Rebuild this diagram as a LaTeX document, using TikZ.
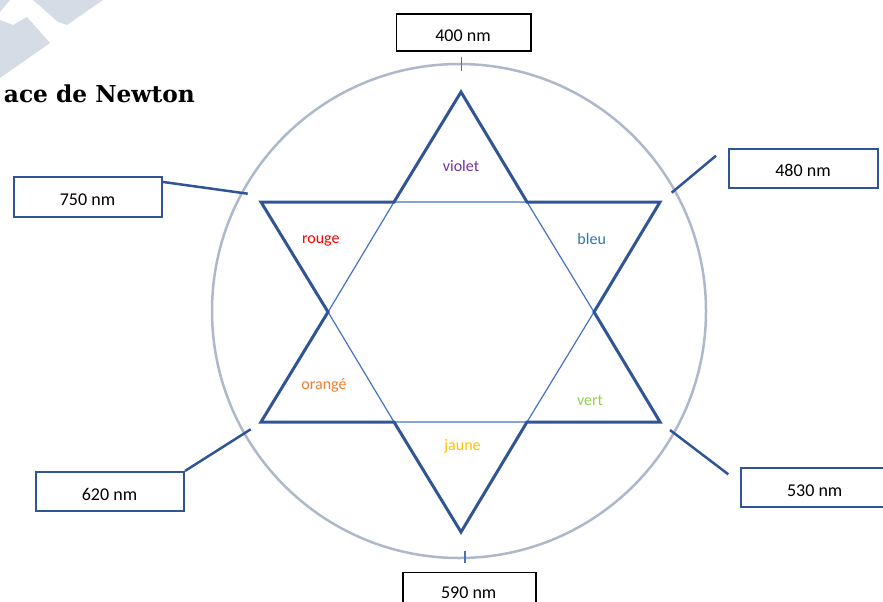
\documentclass[tikz,border=0pt]{standalone}
\usepackage{fontspec}
\setmainfont{Carlito}
\newfontfamily\titlefont{DejaVu Serif}
\usetikzlibrary{calc}
\definecolor{starblue}{HTML}{2F5597}
\definecolor{hexblue}{HTML}{4472C4}
\definecolor{ringgrey}{HTML}{ADB9CA}
\definecolor{decogrey}{HTML}{D6DCE5}
\definecolor{cviolet}{HTML}{7030A0}
\definecolor{crouge}{HTML}{FF0000}
\definecolor{cbleu}{HTML}{2E75B6}
\definecolor{corange}{HTML}{ED7D31}
\definecolor{cvert}{HTML}{92D050}
\definecolor{cjaune}{HTML}{FFC000}
\tikzset{
  bluebox/.style={draw=starblue, line width=2pt, inner sep=0pt, fill=white},
  blackbox/.style={draw=black, line width=1.3pt, inner sep=0pt, fill=white},
  boxlbl/.style={anchor=base, inner sep=0pt, font=\fontsize{18}{20}\selectfont},
  collbl/.style={anchor=base, inner sep=0pt, font=\fontsize{16}{18}\selectfont},
  starline/.style={draw=starblue, line width=3pt, line join=miter},
  hexline/.style={draw=hexblue, line width=1.2pt},
  ringline/.style={draw=ringgrey, line width=2.5pt},
  connline/.style={draw=starblue, line width=2.5pt},
  tickline/.style={draw=hexblue, line width=1.2pt},
}
\begin{document}
\begin{tikzpicture}[x=1pt, y=-1pt]
\useasboundingbox (0,0) rectangle (883,602);
% decorative shapes top-left
\fill[decogrey] (33,0) -- (58,22) -- (67,25) -- (103,0) -- cycle;
\fill[decogrey] (0,0) -- (10,0) -- (0,12) -- cycle;
\fill[decogrey] (0,20) -- (13,25) -- (27,17) -- (50,43) -- (0,78) -- cycle;
% title
\node[anchor=base east, inner sep=0pt, font=\titlefont\bfseries\fontsize{23.3}{26}\selectfont] (title) at (195,102) {ace de Newton};
% ring
\draw[ringline] (459,311) circle (247);
\coordinate (ctr) at (459,311);
% star vertices
\coordinate (A) at (461,92);
\coordinate (B) at (527,202);
\coordinate (C) at (660,202);
\coordinate (D) at (594,312);
\coordinate (E) at (660,422);
\coordinate (F) at (527,422);
\coordinate (G) at (461,532);
\coordinate (H) at (394,422);
\coordinate (I) at (261,422);
\coordinate (J) at (328,312);
\coordinate (K) at (261,202);
\coordinate (L) at (394,202);
\draw[hexline] (L) -- (B) -- (D) -- (F) -- (H) -- (J) -- cycle;
\draw[starline] (A) -- (B) -- (C) -- (D) -- (E) -- (F) -- (G) -- (H) -- (I) -- (J) -- (K) -- (L) -- cycle;
% ticks
\coordinate (tt1) at (461.7,57);
\coordinate (tt2) at (461.7,71);
\coordinate (bt1) at (465,551);
\coordinate (bt2) at (465,563);
\draw[tickline] (tt1) -- (tt2);
\draw[tickline] (bt1) -- (bt2);
% boxes
\node[blackbox, minimum width=134.7pt, minimum height=37pt] (b400) at (463.7,32.5) {};
\node[boxlbl] (t400) at (463,41.7) {400 nm};
\node[bluebox, minimum width=148.3pt, minimum height=39.7pt] (b750) at (87.8,196.8) {};
\node[boxlbl] (t750) at (87.5,205.7) {750 nm};
\node[bluebox, minimum width=148.7pt, minimum height=38.7pt] (b480) at (803.7,168.7) {};
\node[boxlbl] (t480) at (803,176.7) {480 nm};
\node[bluebox, minimum width=148pt, minimum height=38.7pt] (b620) at (110,491.3) {};
\node[boxlbl] (t620) at (109.5,500.7) {620 nm};
\node[bluebox, minimum width=148pt, minimum height=39.6pt] (b530) at (815,487.5) {};
\node[boxlbl] (t530) at (814.7,496.7) {530 nm};
\node[blackbox, minimum width=133pt, minimum height=37pt] (b590) at (469.5,590.9) {};
\node[boxlbl] (t590) at (468.7,598) {590 nm};
% connectors
\coordinate (c750) at (247.7,193.7);
\draw[connline] ([yshift=-6pt]b750.north east) -- (c750);
\coordinate (c480a) at (671.7,192.7);
\coordinate (c480b) at (716,155.7);
\draw[connline] (c480a) -- (c480b);
\coordinate (c620) at (250.7,429.3);
\draw[connline] (c620) -- (b620.north east);
\coordinate (c530a) at (670,430);
\coordinate (c530b) at (728.3,474.3);
\draw[connline] (c530a) -- (c530b);
% colour labels
\node[collbl, text=cviolet] (lviolet) at (461,171.7) {violet};
\node[collbl, text=crouge] (lrouge) at (320.8,243) {rouge};
\node[collbl, text=cbleu] (lbleu) at (591.7,244) {bleu};
\node[collbl, text=corange] (lorange) at (324,389) {orangé};
\node[collbl, text=cvert] (lvert) at (590,405) {vert};
\node[collbl, text=cjaune] (ljaune) at (462.5,450) {jaune};
\end{tikzpicture}
\end{document}
